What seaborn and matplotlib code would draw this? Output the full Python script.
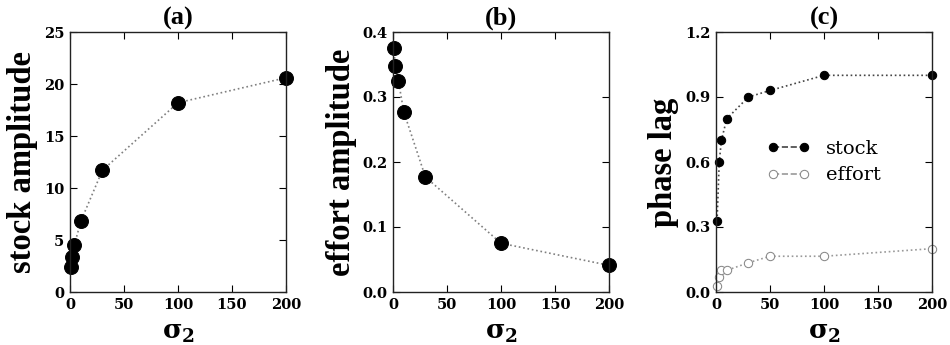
import numpy as np
import pandas as pd
import matplotlib
matplotlib.use("Agg")
import matplotlib.pyplot as plt
import seaborn as sns

# values
sigma_a = [1, 2, 4, 10, 30, 100, 200]
stock_amp = [2.4, 3.4, 4.5, 6.8, 11.7, 18.2, 20.6]

sigma_b = [1, 2, 5, 10, 30, 100, 200]
effort_amp = [0.375, 0.347, 0.325, 0.277, 0.177, 0.075, 0.041]

sigma_c = [1, 3, 5, 10, 30, 50, 100, 200]
stock_lag = [0.33, 0.60, 0.70, 0.80, 0.90, 0.93, 1.0, 1.0]
effort_lag = [0.03, 0.07, 0.10, 0.10, 0.135, 0.165, 0.165, 0.20]

sns.set_style("ticks")
plt.rcParams['font.family'] = ['DejaVu Serif']
plt.rcParams['mathtext.fontset'] = 'dejavuserif'
plt.rcParams['text.color'] = 'black'
plt.rcParams['axes.labelcolor'] = 'black'
plt.rcParams['xtick.color'] = 'black'
plt.rcParams['ytick.color'] = 'black'

fig = plt.figure(figsize=(9.5, 3.45), dpi=100)
lefts = [70 / 950, 393 / 950, 716 / 950]
axes = [fig.add_axes([l, 53 / 345, 216 / 950, 260 / 345]) for l in lefts]

label_font = dict(family='Liberation Serif', fontweight='bold', fontsize=23.5)
title_font = dict(family='Liberation Serif', fontweight='bold', fontsize=19)


def style(ax, ylim, yticks, ylabel, title):
    ax.set_xlim(0, 200)
    ax.set_xticks([0, 50, 100, 150, 200])
    ax.set_ylim(*ylim)
    ax.set_yticks(yticks)
    ax.tick_params(direction='in', top=True, right=True, length=5, width=0.8,
                   labelsize=10.5, pad=4)
    for lab in ax.get_xticklabels() + ax.get_yticklabels():
        lab.set_fontweight('bold')
    for sp in ax.spines.values():
        sp.set_linewidth(1.0)
        sp.set_color('#222222')
    ax.set_ylabel(ylabel, labelpad=4, **label_font)
    ax.set_xlabel(r'$\mathbf{\sigma_2}$', fontsize=19, labelpad=6)
    ax.set_title(title, pad=5, **title_font)


ax = axes[0]
sns.lineplot(x=sigma_a, y=stock_amp, ax=ax, color='gray', linestyle=':', lw=1.2,
             marker='o', markersize=10, markerfacecolor='black', markeredgecolor='black',
             clip_on=False)
style(ax, (0, 25), [0, 5, 10, 15, 20, 25], 'stock amplitude', '(a)')

ax = axes[1]
sns.lineplot(x=sigma_b, y=effort_amp, ax=ax, color='gray', linestyle=':', lw=1.2,
             marker='o', markersize=10, markerfacecolor='black', markeredgecolor='black',
             clip_on=False)
style(ax, (0, 0.4), [0.0, 0.1, 0.2, 0.3, 0.4], 'effort amplitude', '(b)')
ax.set_yticklabels(['0.0', '0.1', '0.2', '0.3', '0.4'], fontweight='bold')

ax = axes[2]
sns.lineplot(x=sigma_c, y=stock_lag, ax=ax, color='#444444', linestyle=':', lw=1.2,
             marker='o', markersize=6, markerfacecolor='black', markeredgecolor='black',
             clip_on=False, label='stock')
sns.lineplot(x=sigma_c, y=effort_lag, ax=ax, color='#999999', linestyle=':', lw=1.2,
             marker='o', markersize=6, markerfacecolor='white', markeredgecolor='#888888',
             clip_on=False, label='effort')
style(ax, (0, 1.2), [0.0, 0.3, 0.6, 0.9, 1.2], 'phase lag', '(c)')
ax.set_yticklabels(['0.0', '0.3', '0.6', '0.9', '1.2'], fontweight='bold')
leg = ax.legend(loc='center', bbox_to_anchor=(0.5, 0.5), frameon=False, numpoints=2,
                handlelength=2.2, prop=dict(family='DejaVu Serif', size=14),
                labelspacing=0.45)
for h in leg.legend_handles:
    h.set_linestyle('--')

fig.savefig('out.png', dpi=100)
